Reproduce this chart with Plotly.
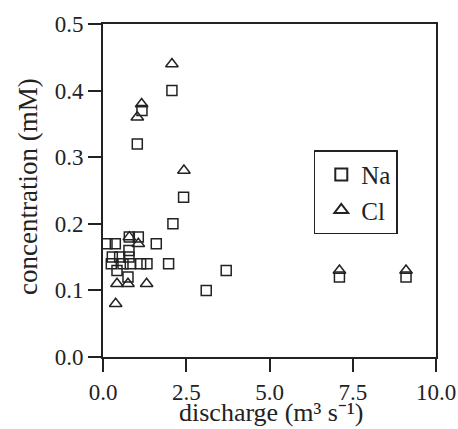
import plotly.graph_objects as go

# Data
na_discharge = [0.12, 0.37, 0.79, 1.06, 1.60, 0.78, 0.28, 0.50, 0.78, 0.25, 0.60, 0.82, 1.13,
                1.32, 1.97, 0.42, 0.75, 3.10, 3.70, 7.10, 9.10, 2.07, 1.17, 1.03, 2.10, 2.42]
na_conc = [0.17, 0.17, 0.18, 0.18, 0.17, 0.16, 0.15, 0.15, 0.15, 0.14, 0.14, 0.14, 0.14,
           0.14, 0.14, 0.13, 0.12, 0.10, 0.13, 0.12, 0.12, 0.40, 0.37, 0.32, 0.20, 0.24]

cl_discharge = [2.43, 0.79, 1.06, 0.42, 0.75, 1.31, 0.38, 2.07, 1.16, 1.03, 7.10, 9.10]
cl_conc = [0.28, 0.18, 0.17, 0.11, 0.11, 0.11, 0.08, 0.44, 0.38, 0.36, 0.13, 0.13]

x_ticks = [0.0, 2.5, 5.0, 7.5, 10.0]
y_ticks = [0.0, 0.1, 0.2, 0.3, 0.4, 0.5]

x_title = "discharge (m\u00b3 s\u207b\u00b9)"
y_title = "concentration (mM)"

FONT = "Liberation Serif"
INK = "#222222"

fig = go.Figure()
fig.add_trace(go.Scatter(
    x=na_discharge, y=na_conc, mode="markers", name="Na",
    marker=dict(symbol="square-open", size=10, color=INK, line=dict(width=1.5, color=INK)),
))
fig.add_trace(go.Scatter(
    x=cl_discharge, y=cl_conc, mode="markers", name="Cl",
    marker=dict(symbol="triangle-up-open", size=11, color=INK, line=dict(width=1.5, color=INK)),
))

axis_common = dict(
    showline=True, linecolor=INK, linewidth=2, mirror=True,
    ticks="outside", ticklen=13, tickwidth=2, tickcolor=INK,
    showgrid=False, zeroline=False, automargin=False,
    tickfont=dict(family=FONT, size=23, color=INK),
    tickformat=".1f",
)

fig.update_xaxes(range=[0, 10], tickvals=x_ticks, **axis_common)
fig.update_yaxes(range=[0, 0.5], tickvals=y_ticks, **axis_common)

fig.add_annotation(text=x_title, xref="paper", yref="paper", x=0.5055, y=-0.166,
                   xanchor="center", yanchor="middle", showarrow=False,
                   font=dict(family=FONT, size=26, color=INK))
fig.add_annotation(text=y_title, xref="paper", yref="paper", x=-0.226, y=0.513,
                   xanchor="center", yanchor="middle", showarrow=False, textangle=-90,
                   font=dict(family=FONT, size=27, color=INK))

fig.update_layout(
    width=458, height=429,
    margin=dict(l=103, r=22, t=24, b=72),
    paper_bgcolor="white", plot_bgcolor="white",
    showlegend=True,
    legend=dict(x=0.633, y=0.621, xanchor="left", yanchor="top",
                bgcolor="white", bordercolor=INK, borderwidth=1.5,
                font=dict(family=FONT, size=25, color=INK), indentation=6,
                itemsizing="constant", tracegroupgap=0),
    font=dict(family=FONT, color=INK),
)

fig.write_html("out.html")
